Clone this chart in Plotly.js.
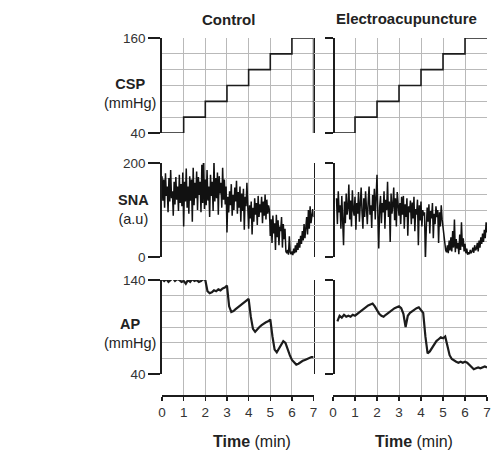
<!DOCTYPE html>
<html><head><meta charset="utf-8">
<script src="https://cdn.plot.ly/plotly-3.0.1.min.js"></script>
<style>html,body{margin:0;padding:0;background:#fff}</style>
</head><body><div id="chart" style="width:493px;height:450px"></div>
<script>
// ---------------- data ----------------
const minutes = [0, 1, 2, 3, 4, 5, 6, 7];
const minuteLabels = ['0', '1', '2', '3', '4', '5', '6', '7'];
const panelTitles = ['Control', 'Electroacupuncture'];

// Carotid sinus pressure (step protocol, mmHg)
const cspTimeControl = [0, 1, 2, 3, 4, 5, 6, 7, 7];
const cspControl     = [40, 60, 80, 100, 120, 140, 160, 160, 40];
const cspTimeEA      = [0, 1, 2, 3, 4, 5, 6, 7];
const cspEA          = [40, 60, 80, 100, 120, 140, 160, 160];

// Sympathetic nerve activity (a.u), sampled every 0.04 min
const snaStep = 0.04;
const snaStartControl = 0;
const snaControl = [
  172,120,165,105,178,130,150,95,168,118,185,125,140,88,160,112,170,122,150,98,175,115,155,108,180,
  65,160,118,188,105,150,92,172,120,165,75,190,110,158,125,182,100,170,132,160,95,196,115,220,102,
  165,110,185,120,150,85,175,130,160,98,205,118,168,125,180,90,172,135,158,105,190,122,165,112,150,
  52,128,95,140,110,155,88,132,100,148,118,162,92,138,105,150,75,135,98,145,58,128,108,158,115,
  60,110,82,118,48,105,75,125,90,115,68,130,85,112,95,128,72,118,88,133,80,122,92,110,100,
  45,80,30,88,50,72,15,90,42,78,25,65,55,85,20,70,38,60,12,8,15,5,44,10,6,
  12,4,18,8,25,10,30,15,38,20,45,28,55,35,70,40,62,85,48,100,60,108,72,95,102,
  85
];
const snaStartEA = 0.16;
const snaEA = [
  125,70,140,95,110,60,130,85,25,118,72,135,90,105,154,80,120,65,142,100,88,128,58,115,92,
  138,75,112,148,95,60,125,85,140,105,70,118,150,90,110,62,132,98,145,80,120,175,88,18,105,
  130,72,115,95,140,60,122,100,160,85,118,32,135,92,110,148,78,125,65,138,102,88,115,70,128,
  90,130,60,112,85,125,45,108,95,120,70,116,82,128,55,102,90,122,25,110,78,118,65,100,88,
  95,-8,60,105,75,112,50,98,82,115,40,92,70,108,85,100,30,95,65,110,80,60,40,22,15,
  10,25,8,35,14,42,12,55,20,80,10,38,18,30,6,48,15,74,22,40,12,28,8,18,5,
  10,6,15,8,12,20,9,25,14,18,30,12,35,20,42,28,50,32,58,40,74,52
];

// Arterial pressure (mmHg), sampled every 0.1 min
const apStep = 0.1;
const apStartControl = 0;
const apControl = [
  141,139,141,138,140,142,139,141,140,138,
  139,136,140,138,141,139,140,138,139,141,
  140,128,126,127,129,128,130,129,131,132,
  134,112,106,107,109,111,113,115,116,118,
  120,101,88,85,88,90,92,94,95,96,
  98,80,66,63,67,71,75,73,66,60,
  55,52,50,51,53,54,55,56,57,58,
  58
];
const apStartEA = 0.2;
const apEA = [
  96,102,100,103,
  101,102,101,103,102,104,
  106,108,110,111,113,114,115,112,108,
  104,102,101,103,105,107,109,110,111,112,
  110,104,90,102,105,107,109,110,111,108,105,
  80,62,64,68,72,75,77,79,78,80,
  70,60,56,54,53,52,53,52,53,52,
  50,47,45,46,47,46,47,48,47
];

const rowLabels = ['<b>CSP</b><br>(mmHg)', '<b>SNA</b><br>(a.u)', '<b>AP</b><br>(mmHg)'];
const timeTitle = '<b>Time</b> (min)';

// ---------------- styling / layout helpers ----------------
const W = 493, H = 450;
const px = v => v / W;
const py = v => 1 - v / H;
const FONT = 'Liberation Sans, Arial, Helvetica, sans-serif';
const GRID = '#b9b9b9';
const INK = '#1c1c1c';

const leftL = 162, leftR = 313.6, rightL = 333, rightR = 487;
const rows = [
  {top: 38,  bot: 133, lo: 40, hi: 160, div: 6},
  {top: 163, bot: 257, lo: 0,  hi: 200, div: 6},
  {top: 280, bot: 374, lo: 40, hi: 140, div: 6}
];

function leftRowAxis(r) {
  return {
    domain: [py(r.bot), py(r.top)], range: [r.lo, r.hi], anchor: 'x',
    tickmode: 'array', tickvals: [r.lo, r.hi], ticktext: [String(r.lo), String(r.hi)],
    ticks: 'outside', ticklen: 12, tickwidth: 1.3, tickcolor: INK,
    showline: true, mirror: true, linecolor: INK, linewidth: 1.7,
    showgrid: true, gridcolor: GRID, gridwidth: 1, zeroline: false,
    minor: {tickmode: 'linear', tick0: r.lo, dtick: (r.hi - r.lo) / r.div, showgrid: true,
            gridcolor: GRID, gridwidth: 1, ticks: ''},
    tickfont: {size: 13.5, color: '#333', family: FONT}, fixedrange: true
  };
}
function rightRowAxis(r) {
  return {
    domain: [py(r.bot), py(r.top)], range: [r.lo, r.hi], anchor: 'free', position: px(rightL),
    tickmode: 'array', tickvals: [r.lo, r.hi], showticklabels: false,
    ticks: 'outside', ticklen: 8, tickwidth: 1.3, tickcolor: INK,
    showline: true, linecolor: INK, linewidth: 1.7,
    showgrid: true, gridcolor: GRID, gridwidth: 1, zeroline: false,
    minor: {tickmode: 'linear', tick0: r.lo, dtick: (r.hi - r.lo) / r.div, showgrid: true,
            gridcolor: GRID, gridwidth: 1, ticks: ''},
    fixedrange: true
  };
}
function timeAxis(l, r) {
  return {
    domain: [px(l), px(r)], range: [0, 7], anchor: 'y',
    tickmode: 'array', tickvals: minutes, ticktext: minuteLabels,
    ticks: 'outside', ticklen: 4, tickwidth: 1.2, tickcolor: INK,
    showline: true, linecolor: INK, linewidth: 1.5,
    showgrid: true, gridcolor: GRID, gridwidth: 1, zeroline: false,
    tickfont: {size: 13.5, color: '#333', family: FONT}, fixedrange: true
  };
}

// invisible helper traces so that the full-height time-grid subplots exist
const gridHelper = xa => ({type: 'scatter', mode: 'none', x: minutes, y: minutes, xaxis: xa, yaxis: 'y',
  hoverinfo: 'skip', showlegend: false});

const traces = [
  gridHelper('x'),
  gridHelper('x2'),
  {type: 'scatter', mode: 'lines', x: cspTimeControl, y: cspControl, xaxis: 'x', yaxis: 'y2',
   line: {color: INK, width: 1.6, shape: 'hv'}, hoverinfo: 'skip'},
  {type: 'scatter', mode: 'lines', x0: snaStartControl, dx: snaStep, y: snaControl, xaxis: 'x', yaxis: 'y3',
   line: {color: '#111', width: 1.5}, hoverinfo: 'skip'},
  {type: 'scatter', mode: 'lines', x0: apStartControl, dx: apStep, y: apControl, xaxis: 'x', yaxis: 'y4',
   line: {color: INK, width: 2.2}, hoverinfo: 'skip'},
  {type: 'scatter', mode: 'lines', x: cspTimeEA, y: cspEA, xaxis: 'x3', yaxis: 'y5',
   line: {color: INK, width: 1.6, shape: 'hv'}, hoverinfo: 'skip'},
  {type: 'scatter', mode: 'lines', x0: snaStartEA, dx: snaStep, y: snaEA, xaxis: 'x3', yaxis: 'y6',
   line: {color: '#111', width: 1.5}, hoverinfo: 'skip'},
  {type: 'scatter', mode: 'lines', x0: apStartEA, dx: apStep, y: apEA, xaxis: 'x3', yaxis: 'y7',
   line: {color: INK, width: 2.2}, hoverinfo: 'skip'}
];

const ann = (x, y, text, size) => ({x: px(x), y: py(y), xref: 'paper', yref: 'paper', text: text,
  showarrow: false, align: 'center', xanchor: 'center', yanchor: 'middle',
  font: {family: FONT, size: size, color: '#222'}});

const layout = {
  width: W, height: H, margin: {l: 0, r: 0, t: 0, b: 0}, autosize: false, showlegend: false,
  paper_bgcolor: '#ffffff', plot_bgcolor: 'rgba(0,0,0,0)',
  font: {family: FONT, color: '#222', size: 13},
  yaxis: {domain: [py(395), py(38)], range: [0, 1], showgrid: false, showline: false, zeroline: false,
          showticklabels: false, ticks: '', fixedrange: true},
  xaxis: timeAxis(leftL, leftR),
  xaxis2: timeAxis(rightL, rightR),
  xaxis3: {domain: [px(leftR), px(rightR)], range: [-(rightL - leftR) / ((rightR - rightL) / 7), 7],
           anchor: 'y5', visible: false, fixedrange: true},
  yaxis2: leftRowAxis(rows[0]),
  yaxis3: leftRowAxis(rows[1]),
  yaxis4: leftRowAxis(rows[2]),
  yaxis5: rightRowAxis(rows[0]),
  yaxis6: rightRowAxis(rows[1]),
  yaxis7: rightRowAxis(rows[2]),
  annotations: [
    ann(228, 20, '<b>' + panelTitles[0] + '</b>', 15),
    ann(406, 18, '<b>' + panelTitles[1] + '</b>', 15),
    ann(130, 93, rowLabels[0], 14.5),
    ann(133, 209, rowLabels[1], 14.5),
    ann(130, 333, rowLabels[2], 14.5),
    ann(252, 441, timeTitle, 16),
    ann(414, 441, timeTitle, 16)
  ]
};

Plotly.newPlot('chart', traces, layout, {staticPlot: true, displayModeBar: false});
</script>
</body></html>
